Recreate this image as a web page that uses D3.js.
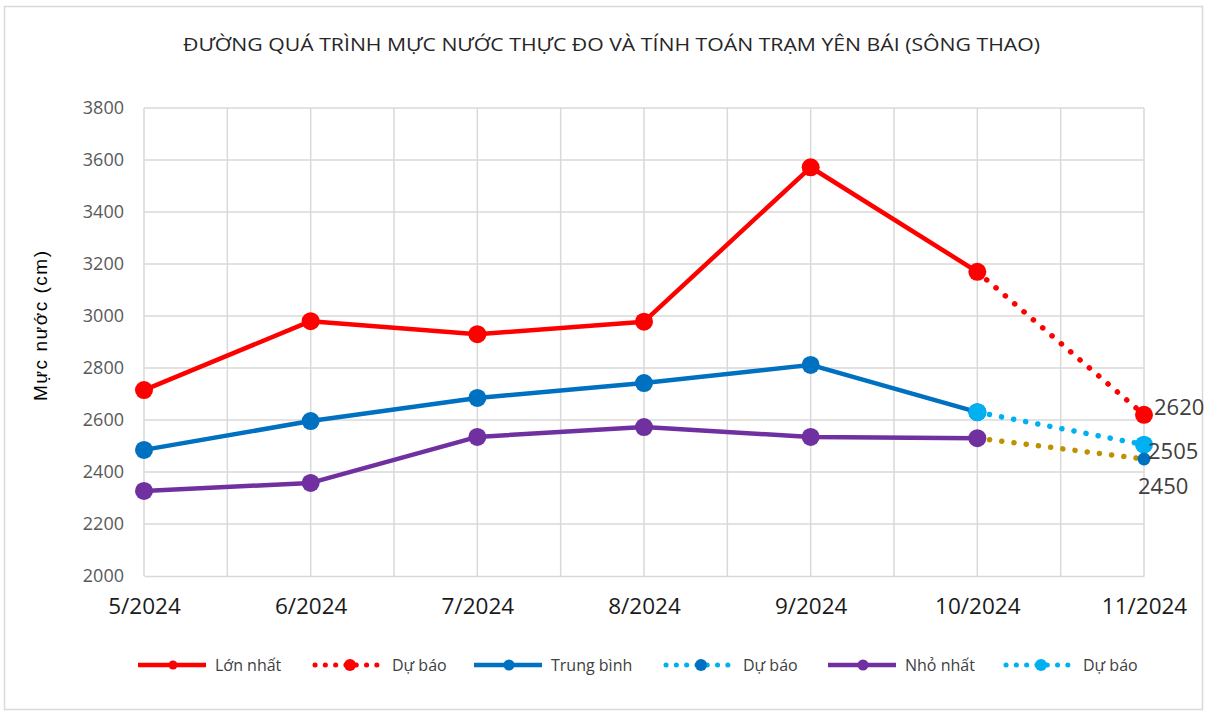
<!DOCTYPE html>
<html>
<head>
<meta charset="utf-8">
<script src="https://cdn.jsdelivr.net/npm/d3@7"></script>
<style>
  body { margin: 0; background: #fff; }
  text { font-family: "Open Sans", "Noto Sans", sans-serif; }
</style>
</head>
<body>
<div id="chart"></div>
<script>
//------------------------------------------------------------------------ Data
var months = ["5/2024", "6/2024", "7/2024", "8/2024", "9/2024", "10/2024", "11/2024"];
var maxVals = [2715, 2980, 2930, 2978, 3572, 3170];          // Lớn nhất
var avgVals = [2485, 2596, 2685, 2742, 2812, 2630];          // Trung bình
var minVals = [2327, 2358, 2535, 2573, 2535, 2530];          // Nhỏ nhất
var maxForecast = [3170, 2620];                              // 10/2024 -> 11/2024
var avgForecast = [2630, 2505];
var minForecast = [2530, 2450];
var yTicks = [2000, 2200, 2400, 2600, 2800, 3000, 3200, 3400, 3600, 3800];
var legendLabels = ["Lớn nhất", "Dự báo", "Trung bình", "Dự báo", "Nhỏ nhất", "Dự báo"];

//------------------------------------------------------------------------ Variables
var W = 1206, H = 713;
var margin = {top: 108, right: 62, bottom: 137, left: 144},
    width = W - margin.left - margin.right,
    height = H - margin.top - margin.bottom;

var colRed = "#ff0000", colBlue = "#0070c0", colLight = "#00b0f0",
    colPurple = "#7030a0", colGold = "#bf9000", colGrid = "#d9d9d9";

var svg = d3.select("#chart").append("svg")
  .attr("width", W)
  .attr("height", H);

// outer frame
svg.append("rect")
  .attr("x", 4.5).attr("y", 6.5)
  .attr("width", W - 8).attr("height", H - 10)
  .attr("fill", "none").attr("stroke", colGrid).attr("stroke-width", 1.5);

// title
svg.append("text")
  .attr("x", 183).attr("y", 51)
  .attr("font-size", "18px")
  .attr("fill", "#262626")
  .attr("textLength", 857)
  .attr("lengthAdjust", "spacingAndGlyphs")
  .text("ĐƯỜNG QUÁ TRÌNH MỰC NƯỚC THỰC ĐO VÀ TÍNH TOÁN TRẠM YÊN BÁI (SÔNG THAO)");

var g = svg.append("g").attr("transform", "translate(" + margin.left + "," + margin.top + ")");

var x = d3.scalePoint().domain(months).range([0, width]);
var y = d3.scaleLinear().domain([2000, 3800]).range([height, 0]);
var step = x.step();

// grid: horizontal
g.selectAll(".hgrid").data(yTicks.slice(1)).enter().append("line")
  .attr("x1", 0).attr("x2", width)
  .attr("y1", function(d){ return y(d); }).attr("y2", function(d){ return y(d); })
  .attr("stroke", colGrid).attr("stroke-width", 1.5);

// grid: vertical (every half category)
var vLines = d3.range(0, months.length * 2 - 1).map(function(i){ return i * step / 2; });
g.selectAll(".vgrid").data(vLines).enter().append("line")
  .attr("x1", function(d){ return d; }).attr("x2", function(d){ return d; })
  .attr("y1", 0).attr("y2", height)
  .attr("stroke", colGrid).attr("stroke-width", 1.5);

// x axis
var xAxis = g.append("g")
  .attr("transform", "translate(0," + height + ")")
  .call(d3.axisBottom(x).tickSize(0).tickPadding(22));
xAxis.select(".domain").attr("stroke", colGrid).attr("stroke-width", 1.5);
xAxis.selectAll("text").attr("font-size", "22.5px").attr("fill", "#1a1a1a")
  .style("font-family", "'Open Sans', sans-serif");

// y axis
var yAxis = g.append("g")
  .call(d3.axisLeft(y).tickValues(yTicks).tickFormat(d3.format("d")).tickSize(0).tickPadding(20));
yAxis.select(".domain").remove();
yAxis.selectAll("text").attr("font-size", "18px").attr("fill", "#595959")
  .style("font-family", "'Open Sans', sans-serif");

// y label
svg.append("text")
  .attr("transform", "translate(47,326) rotate(-90)")
  .attr("text-anchor", "middle")
  .attr("font-size", "19px")
  .attr("fill", "#000")
  .attr("textLength", 150)
  .attr("lengthAdjust", "spacing")
  .style("font-family", "'Liberation Sans', Arial, sans-serif")
  .text("Mực nước (cm)");

var line = d3.line()
  .x(function(d){ return x(d.m); })
  .y(function(d){ return y(d.v); });

function pts(vals, offset){
  return vals.map(function(v, i){ return {m: months[i + offset], v: v}; });
}

// forecast dotted lines (drawn first)
function dotted(vals, col){
  g.append("path").datum(pts(vals, 5))
    .attr("d", line).attr("fill", "none")
    .attr("stroke", col).attr("stroke-width", 5.5)
    .attr("stroke-linecap", "round")
    .attr("stroke-dasharray", "0.1 12.2");
}
dotted(maxForecast, colRed);
dotted(avgForecast, colLight);
dotted(minForecast, colGold);

// solid series
function solid(vals, col){
  g.append("path").datum(pts(vals, 0))
    .attr("d", line).attr("fill", "none")
    .attr("stroke", col).attr("stroke-width", 4.5)
    .attr("stroke-linejoin", "round");
  g.selectAll(null).data(pts(vals, 0)).enter().append("circle")
    .attr("cx", function(d){ return x(d.m); })
    .attr("cy", function(d){ return y(d.v); })
    .attr("r", 9).attr("fill", col);
}
solid(maxVals, colRed);
solid(avgVals, colBlue);
solid(minVals, colPurple);

// forecast markers
function fMarkers(vals, col, r, startIdx){
  g.selectAll(null).data(pts(vals, 5).slice(startIdx)).enter().append("circle")
    .attr("cx", function(d){ return x(d.m); })
    .attr("cy", function(d){ return y(d.v); })
    .attr("r", r).attr("fill", col);
}
fMarkers(maxForecast, colRed, 9, 1);
fMarkers(avgForecast, colLight, 9, 0);
fMarkers(minForecast, colBlue, 6.5, 1);

// value labels
var lastX = x(months[6]);
var labels = [
  {v: maxForecast[1], dx: 10, dy: 0},
  {v: avgForecast[1], dx: 4, dy: 14},
  {v: minForecast[1], dx: -6, dy: 35}
];
g.selectAll(null).data(labels).enter().append("text")
  .attr("x", function(d){ return lastX + d.dx; })
  .attr("y", function(d){ return y(d.v) + d.dy; })
  .attr("font-size", "22px").attr("fill", "#404040")
  .text(function(d){ return d.v; });

// legend
var legendItems = [
  {x: 138, col: colRed, dash: false, mcol: colRed, mr: 4.5},
  {x: 315, col: colRed, dash: true, mcol: colRed, mr: 6},
  {x: 474, col: colBlue, dash: false, mcol: colBlue, mr: 5.5},
  {x: 666, col: colLight, dash: true, mcol: colBlue, mr: 6},
  {x: 828, col: colPurple, dash: false, mcol: colPurple, mr: 5.5},
  {x: 1006, col: colLight, dash: true, mcol: colLight, mr: 6}
];
var lg = svg.append("g").attr("transform", "translate(0,665)");
legendItems.forEach(function(it, i){
  var l = lg.append("line")
    .attr("x1", it.x).attr("x2", it.x + 68).attr("y1", 0).attr("y2", 0)
    .attr("stroke", it.col);
  if (it.dash) {
    l.attr("stroke-width", 5).attr("stroke-linecap", "round").attr("stroke-dasharray", "0.1 10.2");
  } else {
    l.attr("stroke-width", 4.5);
  }
  lg.append("circle").attr("cx", it.x + 35).attr("cy", 0).attr("r", it.mr).attr("fill", it.mcol);
  lg.append("text")
    .attr("x", it.x + 77).attr("y", 6)
    .attr("font-size", "16px").attr("fill", "#404040")
    .text(legendLabels[i]);
});
</script>
</body>
</html>
